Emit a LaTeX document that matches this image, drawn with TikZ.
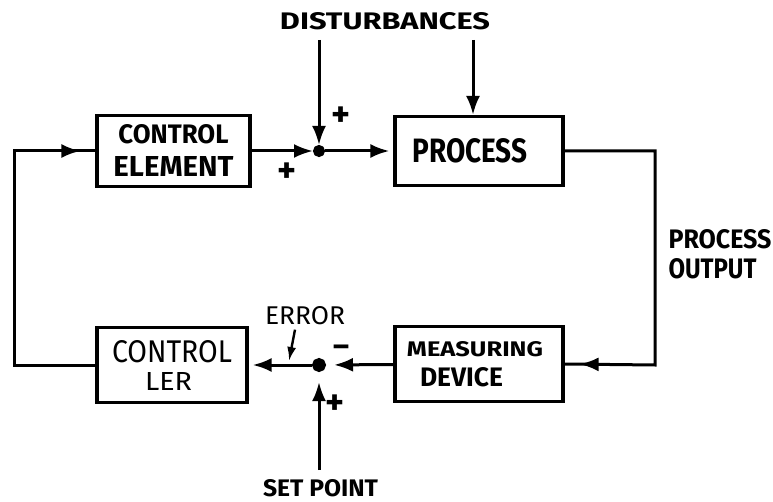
\documentclass[tikz,border=0pt]{standalone}
\usepackage{fontspec}
\setmainfont{Fira Sans}
\usepackage{graphicx}
\usetikzlibrary{arrows.meta,decorations.markings}
\newcommand\fitbox[3]{\resizebox{#1pt}{#2pt}{#3}}
\begin{document}
\begin{tikzpicture}[x=1pt,y=-1pt,
  line width=3pt,
  blk/.style={draw,line width=3.2pt,rectangle,inner sep=0pt,align=center},
  lbl/.style={inner sep=0pt,font=\bfseries},
  sgn/.style={inner sep=0pt,font=\bfseries},
  junc/.style={circle,fill,draw,inner sep=0pt,minimum size=9pt},
  tip/.style={-{Latex[length=19pt,width=14pt]}},
  midtip/.style={postaction={decorate},decoration={markings,mark=at position #1 with {\arrow{Latex[length=19pt,width=14pt]}}}},
]
\fill[white] (0,0) rectangle (773,502);
\useasboundingbox (0,0) rectangle (773,502);

% blocks
\node[blk,minimum width=153pt,minimum height=71pt,font=\fontsize{10pt}{33pt}\selectfont\bfseries] (ce) at (173.5,151)
  {\fitbox{110}{19}{CONTROL}\\\fitbox{120}{20}{ELEMENT}};
\node[blk,minimum width=168pt,minimum height=69pt,font=\bfseries] (proc) at (479,151)
  {\fitbox{115}{24}{PROCESS}\makebox[18pt]{}};
\node[blk,minimum width=168pt,minimum height=75pt,font=\fontsize{10pt}{30pt}\selectfont\bfseries] (md) at (479,364)
  {\fitbox{136}{15}{MEASURING}\makebox[8pt]{}\\\fitbox{83}{19}{DEVICE}\makebox[35pt]{}};
\node[blk,minimum width=150pt,minimum height=75pt,font=\fontsize{10pt}{28pt}\selectfont] (ctrl) at (172,365)
  {\fitbox{120}{22}{CONTROL}\\\fitbox{47}{18}{LER}\makebox[7pt]{}};

% junctions
\node[junc] (s1) at (319,151) {};
\node[junc,minimum size=11pt] (s2) at (319,365) {};

% free ends
\coordinate (d1) at (319,40);
\coordinate (d2) at (473,40);
\coordinate (sp) at (319,470);
\coordinate (lc) at (14,151);
\coordinate (rc) at (655,365);
\coordinate (ep) at (289,361);

% connectors
\draw[tip] (d1) -- (s1);
\draw[tip] (d2) -- (d2 |- proc.north);
\draw[tip] (ce) -- (s1);
\draw[tip,shorten >=4pt] (s1) -- (proc);
\draw[midtip=-15pt] (proc.east) -| (rc) -- (md.east);
\draw[tip,shorten >=8pt] (md) -- (s2);
\draw[tip,shorten >=10pt] (sp) -- (s2);
\draw[tip,shorten >=4pt] (s2) -- (ctrl);
\draw[midtip=-15pt] (ctrl.west) -| (lc) -- (ce.west);

% labels
\node[lbl] (dist) at (385,21.5) {\fitbox{210}{17}{DISTURBANCES}};
\node[lbl,align=left,anchor=north west,font=\fontsize{10pt}{30pt}\selectfont\bfseries] (po) at (667,228)
  {\fitbox{103}{19}{PROCESS}\\\fitbox{88}{20}{OUTPUT}};
\node[lbl,font=\mdseries] (err) at (305,316) {\fitbox{80}{18}{ERROR}};
\node[lbl] (setp) at (320.5,488.5) {\fitbox{115}{17}{SET POINT}};
\draw[-{Latex[length=14pt,width=9pt]},line width=2.4pt] ([xshift=-10pt,yshift=-3pt]err.south) -- (ep);

% signs
\node[sgn] (p1) at (341,117) {\resizebox{19pt}{!}{+}};
\node[sgn] (p2) at (287,173) {\resizebox{19pt}{!}{+}};
\node[sgn] (m1) at (341,351) {\resizebox{16pt}{!}{\textendash}};
\node[sgn] (p3) at (335,405) {\resizebox{19pt}{!}{+}};
\end{tikzpicture}
\end{document}
